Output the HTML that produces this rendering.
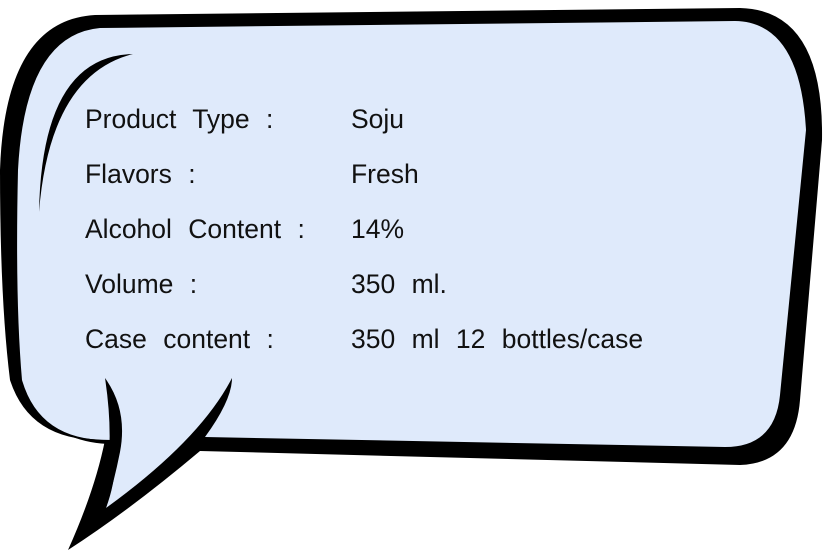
<!DOCTYPE html>
<html><head><style>
html,body{margin:0;padding:0;background:#fff;}
svg{display:block}
text{font-family:"Liberation Sans",Arial,sans-serif;font-size:26.5px;fill:#111;word-spacing:9px}
</style></head><body>
<svg width="824" height="552" viewBox="0 0 824 552" xmlns="http://www.w3.org/2000/svg">
<path d="M 95 15 L 740 8 Q 824 10 822 140 L 800 400 Q 795 463 740 465 L 200 451 Q 130 510 68 550 Q 95 490 105 440 Q 30 442 10 380 Q 0 300 0 170 Q 5 20 95 15 Z" fill="#000"/>
<path d="M 100 28 L 735 21 Q 800 22 806 130 L 780 395 Q 775 447 725 447 L 205 437 Q 232 400 232 378 Q 200 440 106 508 Q 120 470 112 440 Q 40 442 22 380 Q 15 300 18 170 Q 25 35 100 28 Z" fill="#dfeafb"/>
<path d="M 105 378 Q 128 410 120 452 Q 114 482 106 508 L 101 505 Q 116 450 105 378 Z" fill="#000"/>
<path d="M 70 436 Q 90 440 112 440 L 112 444 Q 90 444 70 436 Z" fill="#000"/>
<path d="M 133 54 Q 42 56 39 212 Q 50 75 133 54 Z" fill="#000"/>
<text x="85" y="128">Product Type :</text>
<text x="85" y="183">Flavors :</text>
<text x="85" y="238">Alcohol Content :</text>
<text x="85" y="293">Volume :</text>
<text x="85" y="348">Case content :</text>
<text x="351" y="128">Soju</text>
<text x="351" y="183">Fresh</text>
<text x="351" y="238">14%</text>
<text x="351" y="293">350 ml.</text>
<text x="351" y="348">350 ml 12 bottles/case</text>
</svg>
</body></html>
